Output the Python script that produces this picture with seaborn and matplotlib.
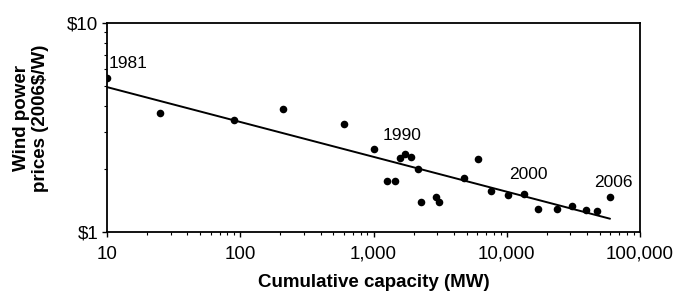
import numpy as np
import pandas as pd
import seaborn as sns
import matplotlib.pyplot as plt
import matplotlib.ticker as mticker

# cumulative capacity (MW) and price (2006$/W), one point per year 1981-2006
years = list(range(1981, 2007))
capacity = [10, 25, 89, 210, 597, 1014, 1262, 1449, 1570, 1733, 1923, 2144, 2286,
            2958, 3119, 4744, 6080, 7620, 10150, 13550, 17260, 23950, 31050,
            39330, 47230, 59530]
price = [5.43, 3.72, 3.43, 3.86, 3.29, 2.50, 1.76, 1.76, 2.26, 2.37, 2.28, 2.00, 1.39,
         1.48, 1.40, 1.81, 2.24, 1.57, 1.50, 1.53, 1.29, 1.29, 1.34,
         1.28, 1.27, 1.48]
labelled = [1981, 1990, 2000, 2006]

df = pd.DataFrame({"year": years, "capacity": capacity, "price": price})

# power-law trend line fitted in log-log space
slope, icpt = np.polyfit(np.log10(df.capacity), np.log10(df.price), 1)
fit = pd.DataFrame({"capacity": [df.capacity.min(), df.capacity.max()]})
fit["price"] = 10 ** (icpt + slope * np.log10(fit.capacity))

sns.set_style("ticks")
plt.rcParams['font.family'] = ['Liberation Sans', 'DejaVu Sans']
plt.rcParams.update({"text.color": "black", "axes.labelcolor": "black",
                     "xtick.color": "black", "ytick.color": "black"})

fig = plt.figure(figsize=(6.78, 2.93), dpi=100)
ax = fig.add_axes([0.158, 0.207, 0.786, 0.716])

sns.lineplot(data=fit, x="capacity", y="price", color="black", linewidth=1.4, ax=ax)
sns.scatterplot(data=df, x="capacity", y="price", color="black", s=30,
                edgecolor="black", linewidth=0, ax=ax, zorder=3)

ax.set_xscale("log")
ax.set_yscale("log")
ax.set_xlim(10, 100000)
ax.set_ylim(1, 10)

# log minor ticks at 2..9 of each decade
xminor = [m * 10 ** d for d in range(1, 5) for m in range(2, 10)]
yminor = list(range(2, 10))
ax.set_xticks([10, 100, 1000, 10000, 100000])
ax.set_xticks(xminor, minor=True)
ax.set_yticks([1, 10])
ax.set_yticks(yminor, minor=True)
ax.xaxis.set_major_formatter(mticker.FuncFormatter(lambda v, p: f"{v:,.0f}"))
ax.xaxis.set_minor_formatter(mticker.NullFormatter())
ax.yaxis.set_major_formatter(mticker.FuncFormatter(lambda v, p: f"${v:.0f}"))
ax.yaxis.set_minor_formatter(mticker.NullFormatter())
ax.tick_params(axis="both", which="major", labelsize=13.5, length=3.5, width=1,
               pad=3, direction="out", bottom=True, left=True)
ax.tick_params(axis="x", which="major", pad=6)
ax.tick_params(axis="both", which="minor", length=2.2, width=0.8,
               direction="out", bottom=True, left=True, color="black")
for s in ax.spines.values():
    s.set_linewidth(1.3)
    s.set_color("black")

# label offsets in points (dx, dy to baseline)
offsets = {1981: (1.4, 7.7), 1990: (-16.5, 10), 2000: (-10.8, 10.4), 2006: (-11.3, 7.2)}
for _, r in df[df.year.isin(labelled)].iterrows():
    dx, dy = offsets[int(r.year)]
    ax.annotate(str(int(r.year)), (r.capacity, r.price), xytext=(dx, dy),
                textcoords="offset points", fontsize=12.5, ha="left", va="baseline")

ax.set_xlabel("Cumulative capacity (MW)", fontsize=13.5, fontweight="bold", labelpad=8)
ax.set_ylabel("Wind power\nprices (2006$/W)", fontsize=13.5, fontweight="bold",
              labelpad=13, linespacing=1.15)
ax.yaxis.label.set_y(0.543)

fig.savefig("out.png", dpi=100)
